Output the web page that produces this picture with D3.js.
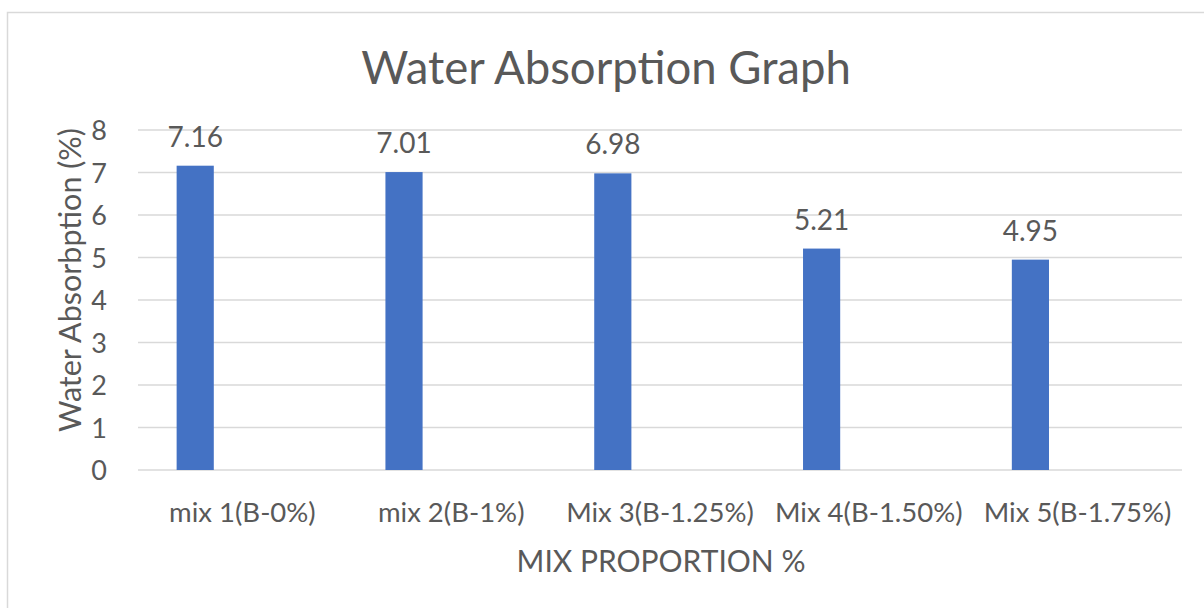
<!DOCTYPE html>
<html>
<head>
<meta charset="utf-8">
<script src="https://cdn.jsdelivr.net/npm/d3@7"></script>
<style>
  body { margin: 0; background: #fff; }
  text { font-family: Lato, "Open Sans", sans-serif; fill: #595959; }
</style>
</head>
<body>
<svg class="chart" width="1204" height="608"></svg>
<script>
var categories = ["mix 1(B-0%)", "mix 2(B-1%)", "Mix 3(B-1.25%)", "Mix 4(B-1.50%)", "Mix 5(B-1.75%)"];
var absorption = [7.16, 7.01, 6.98, 5.21, 4.95];
var yTicks = [0, 1, 2, 3, 4, 5, 6, 7, 8];

var data = categories.map(function(c, i) { return {cat: c, val: absorption[i]}; });

var svg = d3.select(".chart"),
    margin = {top: 130, right: 22, bottom: 138, left: 138},
    width = +svg.attr("width") - margin.left - margin.right,
    height = +svg.attr("height") - margin.top - margin.bottom;

// chart border
svg.append("rect")
    .attr("x", 7.5).attr("y", 12.5)
    .attr("width", 1210).attr("height", 620)
    .attr("fill", "none")
    .attr("stroke", "#d9d9d9")
    .attr("stroke-width", 1.5);

var g = svg.append("g").attr("transform", "translate(" + margin.left + "," + margin.top + ")");

var x = d3.scaleBand()
    .domain(categories)
    .range([0, width]);

var y = d3.scaleLinear()
    .domain([0, 8])
    .range([height, 0]);

// gridlines
g.selectAll(".grid")
  .data(yTicks)
  .enter().append("line")
    .attr("x1", 0).attr("x2", width)
    .attr("y1", function(d) { return y(d); })
    .attr("y2", function(d) { return y(d); })
    .attr("stroke", "#d9d9d9")
    .attr("stroke-width", 1.5);

// y axis labels
var yAxis = g.append("g")
    .call(d3.axisLeft(y).tickValues(yTicks).tickSize(0).tickPadding(31));
yAxis.select(".domain").remove();
yAxis.selectAll("text")
    .attr("fill", "#595959")
    .style("font-size", "27px")
    .attr("dy", "0.36em");

// x axis labels
var xAxis = g.append("g")
    .attr("transform", "translate(0," + height + ")")
    .call(d3.axisBottom(x).tickSize(0).tickPadding(32));
xAxis.select(".domain").remove();
xAxis.selectAll("text")
    .attr("fill", "#595959")
    .style("font-size", "27.5px");

// bars sit left of band centre (Excel clustered, one series)
var barOff = 0.185, barW = 0.178;
g.selectAll(".bar")
  .data(data)
  .enter().append("rect")
    .attr("class", "bar")
    .attr("x", function(d) { return x(d.cat) + x.bandwidth() * barOff; })
    .attr("width", x.bandwidth() * barW)
    .attr("y", function(d) { return y(d.val); })
    .attr("height", function(d) { return height - y(d.val); })
    .attr("fill", "#4472c4");

g.selectAll(".lbl")
  .data(data)
  .enter().append("text")
    .attr("class", "lbl")
    .attr("x", function(d) { return x(d.cat) + x.bandwidth() * (barOff + barW / 2); })
    .attr("y", function(d) { return y(d.val) - 19; })
    .attr("text-anchor", "middle")
    .style("font-size", "28px")
    .text(function(d) { return d.val.toFixed(2); });

// title
svg.append("text")
    .attr("x", 606).attr("y", 84)
    .attr("text-anchor", "middle")
    .style("font-size", "45.5px")
    .text("Water Absorption Graph");

// axis titles
svg.append("text")
    .attr("x", 661).attr("y", 572)
    .attr("text-anchor", "middle")
    .style("font-size", "30px")
    .text("MIX PROPORTION %");

svg.append("text")
    .attr("transform", "translate(81,280) rotate(-90)")
    .attr("text-anchor", "middle")
    .style("font-size", "30.5px")
    .text("Water Absorbption (%)");
</script>
</body>
</html>
